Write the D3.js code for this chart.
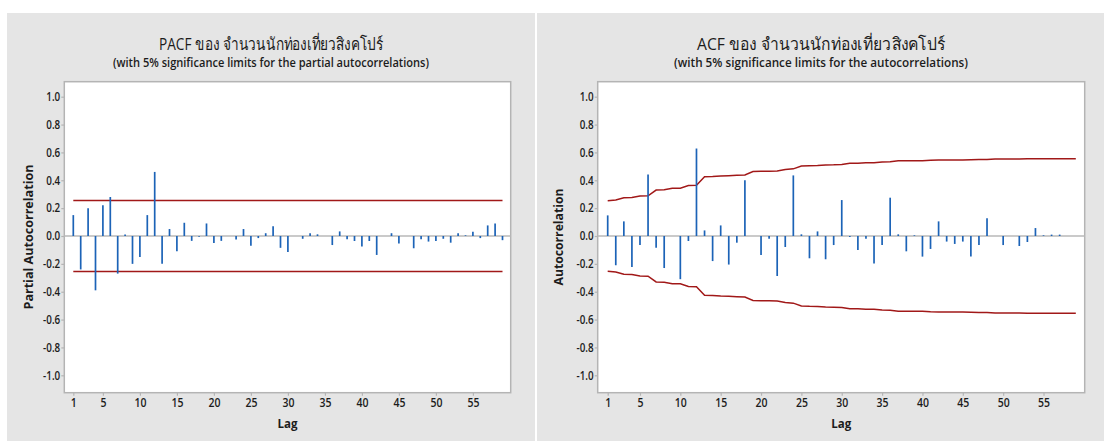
<!DOCTYPE html>
<html><head><meta charset="utf-8">
<script src="https://cdn.jsdelivr.net/npm/d3@7"></script>
<style>
html,body{margin:0;padding:0;background:#fff;}
svg{display:block;}
text{font-family:"Open Sans","Noto Sans","DejaVu Sans",sans-serif;fill:#1c1c1c;}
</style></head><body>
<svg id="chart" width="1108" height="441"></svg>
<script>
// ---------------- data ----------------
const lags = [1,2,3,4,5,6,7,8,9,10,11,12,13,14,15,16,17,18,19,20,21,22,23,24,25,26,27,28,29,30,
  31,32,33,34,35,36,37,38,39,40,41,42,43,44,45,46,47,48,49,50,51,52,53,54,55,56,57,58,59];

const pacfValues = [0.15,-0.24,0.20,-0.39,0.22,0.28,-0.27,0.01,-0.20,-0.15,
  0.15,0.46,-0.20,0.05,-0.11,0.095,-0.035,-0.005,0.09,-0.05,
  -0.035,0.0,-0.025,0.05,-0.07,-0.015,0.02,0.07,-0.085,-0.115,
  0.0,-0.02,0.02,0.012,0.0,-0.065,0.033,-0.024,-0.036,-0.076,
  -0.036,-0.136,0.0,0.02,-0.053,0.0,-0.088,-0.024,-0.04,-0.036,
  -0.02,-0.048,0.02,0.005,0.03,-0.015,0.076,0.09,-0.03];

const pacfLimit = 0.254;

const acfValues = [0.148,-0.21,0.105,-0.222,-0.065,0.442,-0.084,-0.23,0.0,-0.31,
  -0.036,0.628,0.04,-0.18,0.076,-0.205,-0.048,0.40,0.0,-0.136,
  -0.02,-0.287,-0.079,0.435,0.012,-0.16,0.033,-0.167,-0.065,0.258,
  -0.007,-0.10,-0.02,-0.198,-0.065,0.275,0.012,-0.11,0.005,-0.148,
  -0.093,0.105,-0.04,-0.057,-0.04,-0.148,-0.065,0.127,0.0,-0.065,
  0.0,-0.072,-0.043,0.057,0.005,0.01,0.01,0.0,0.0];

const acfUpperLimit = [0.253,0.258,0.275,0.276,0.287,0.289,0.330,0.332,0.342,0.343,
  0.363,0.364,0.425,0.427,0.431,0.433,0.436,0.438,0.463,0.464,
  0.465,0.466,0.478,0.482,0.502,0.505,0.506,0.510,0.511,0.514,
  0.522,0.523,0.525,0.526,0.532,0.533,0.540,0.540,0.541,0.541,
  0.544,0.545,0.546,0.546,0.546,0.547,0.549,0.549,0.553,0.553,
  0.553,0.553,0.554,0.554,0.555,0.555,0.555,0.555,0.555];

const yTickValues = [-1.0,-0.8,-0.6,-0.4,-0.2,0.0,0.2,0.4,0.6,0.8,1.0];
const xTickValues = [1,5,10,15,20,25,30,35,40,45,50,55];

const pacfTitle = "PACF ของ จำนวนนักท่องเที่ยวสิงคโปร์";
const pacfSubtitle = "(with 5% significance limits for the partial autocorrelations)";
const acfTitle = "ACF ของ จำนวนนักท่องเที่ยวสิงคโปร์";
const acfSubtitle = "(with 5% significance limits for the autocorrelations)";
const pacfYLabel = "Partial Autocorrelation";
const acfYLabel = "Autocorrelation";
const xLabel = "Lag";

// ---------------- layout ----------------
const svg = d3.select("#chart");
const BAR = "#1c63b7", LIM = "#a11818", FRAME = "#b4b4b4";

function drawPanel(cfg){
  const g = svg.append("g");
  g.append("rect").attr("x",cfg.px0).attr("y",13).attr("width",cfg.px1-cfg.px0).attr("height",428)
    .attr("fill","#e5e5e5");
  const x = d3.scaleLinear().domain([1,59]).range([cfg.lag1, cfg.lag59]);
  const y = d3.scaleLinear().domain([-1,1]).range([375.3, 96.7]);
  const p = cfg.plot;
  g.append("rect").attr("x",p.x0).attr("y",p.y0).attr("width",p.x1-p.x0).attr("height",p.y1-p.y0)
    .attr("fill","#fff").attr("stroke",FRAME).attr("stroke-width",1.5);

  // titles
  g.append("text").attr("x",cfg.tcx).attr("y",50).attr("text-anchor","middle")
    .attr("font-size",17).attr("textLength",cfg.tw).attr("lengthAdjust","spacingAndGlyphs").text(cfg.title);
  g.append("text").attr("x",cfg.tcx).attr("y",67).attr("text-anchor","middle")
    .attr("font-size",12).attr("font-weight",600).attr("textLength",cfg.sw).attr("lengthAdjust","spacingAndGlyphs").text(cfg.subtitle);

  // axes
  const yAx = d3.axisLeft(y).tickValues(yTickValues).tickFormat(d3.format(".1f")).tickSize(3).tickPadding(2);
  const ya = g.append("g").attr("transform",`translate(${p.x0},0)`).call(yAx);
  ya.select(".domain").remove();
  ya.selectAll("line").attr("stroke",FRAME).attr("stroke-width",1.2);
  ya.selectAll("text").attr("font-size",12).attr("font-weight",600).attr("font-family",null)
    .attr("fill","#1c1c1c").text(d=>d3.format(".1f")(d).replace("−","-"))
    .attr("transform","scale(0.82,1)");

  const xAx = d3.axisBottom(x).tickValues(xTickValues).tickSize(3).tickPadding(2);
  const xa = g.append("g").attr("transform",`translate(0,${p.y1})`).call(xAx);
  xa.select(".domain").remove();
  xa.selectAll("line").attr("stroke",FRAME).attr("stroke-width",1.2);
  xa.selectAll("text").attr("font-size",12.5).attr("font-weight",600).attr("font-family",null)
    .attr("fill","#1c1c1c").attr("transform","scale(0.84,1)");

  // axis labels
  g.append("text").attr("x",(p.x0+p.x1)/2).attr("y",428).attr("text-anchor","middle")
    .attr("font-size",13).attr("font-weight",700).attr("textLength",20).attr("lengthAdjust","spacingAndGlyphs").text(xLabel);
  g.append("text").attr("transform",`translate(${cfg.ylx},237) rotate(-90)`).attr("text-anchor","middle")
    .attr("font-size",13).attr("font-weight",700).attr("textLength",cfg.ylw).attr("lengthAdjust","spacingAndGlyphs").text(cfg.ylabel);

  // zero line
  g.append("line").attr("x1",p.x0).attr("x2",p.x1).attr("y1",y(0)).attr("y2",y(0))
    .attr("stroke","#b8b8b8").attr("stroke-width",1.5);

  // limits
  cfg.drawLimits(g, x, y);

  // bars
  g.selectAll("line.bar").data(cfg.values).join("line").attr("class","bar")
    .attr("x1",(d,i)=>x(lags[i])).attr("x2",(d,i)=>x(lags[i]))
    .attr("y1",y(0)).attr("y2",d=>y(d))
    .attr("stroke",BAR).attr("stroke-width",1.7);
}

drawPanel({
  px0:7, px1:535, plot:{x0:64.3,x1:510.7,y0:81.7,y1:392.7}, lag1:73.3, lag59:502.5,
  tcx:271, tw:224, sw:316, title:pacfTitle, subtitle:pacfSubtitle,
  ylx:33, ylw:145, ylabel:pacfYLabel, values:pacfValues,
  drawLimits:(g,x,y)=>{
    [pacfLimit,-pacfLimit].forEach(v=>{
      g.append("line").attr("x1",x(1)).attr("x2",x(59)).attr("y1",y(v)).attr("y2",y(v))
        .attr("stroke",LIM).attr("stroke-width",1.5);
    });
  }
});

drawPanel({
  px0:537, px1:1104, plot:{x0:597.7,x1:1084.7,y0:81.7,y1:392.7}, lag1:607.7, lag59:1075.8,
  tcx:821, tw:248, sw:294, title:acfTitle, subtitle:acfSubtitle,
  ylx:563, ylw:97, ylabel:acfYLabel, values:acfValues,
  drawLimits:(g,x,y)=>{
    const line = d3.line().x((d,i)=>x(lags[i]));
    g.append("path").datum(acfUpperLimit).attr("d",line.y(d=>y(d))).attr("fill","none")
      .attr("stroke",LIM).attr("stroke-width",1.5);
    g.append("path").datum(acfUpperLimit).attr("d",line.y(d=>y(-d))).attr("fill","none")
      .attr("stroke",LIM).attr("stroke-width",1.5);
  }
});
</script>
</body></html>
